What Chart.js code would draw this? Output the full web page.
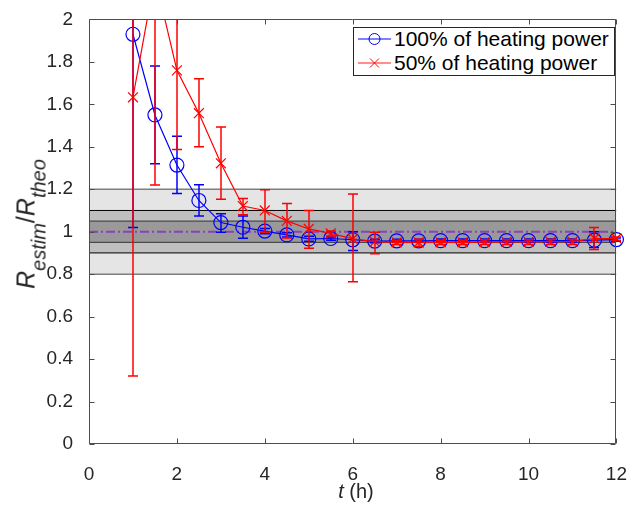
<!DOCTYPE html>
<html>
<head>
<meta charset="utf-8">
<script src="https://cdn.jsdelivr.net/npm/chart.js@4/dist/chart.umd.min.js"></script>
<style>
  html, body { margin: 0; padding: 0; background: #fff; }
  #wrap { position: relative; width: 638px; height: 508px; }
  canvas { display: block; }
  .txt { position: absolute; font-family: "Liberation Sans", Arial, Helvetica, sans-serif; color: #262626; white-space: nowrap; line-height: 1; }
  #ylab { left: 31px; top: 224px; font-size: 25px; transform: translate(-50%, -50%) rotate(-90deg); }
  #ylab .sb { font-size: 20px; vertical-align: -11px; font-style: italic; }
  #xlab { left: 356px; top: 491px; font-size: 20px; transform: translate(-50%, -50%); }
  #legend { position: absolute; left: 353px; top: 27px; width: 262px; height: 49px; border: 1px solid #262626; background: #fff; box-sizing: border-box; }
  .row { position: absolute; left: 0; height: 22px; display: flex; align-items: center; font-family: "Liberation Sans", Arial, Helvetica, sans-serif; font-size: 21px; color: #000; white-space: nowrap; }
  .row svg { margin-left: 4px; margin-right: 3px; }
</style>
</head>
<body>
<div id="wrap">
  <canvas id="c" width="638" height="508"></canvas>
  <div id="ylab" class="txt"><i>R</i><span class="sb">estim</span>/<i>R</i><span class="sb">theo</span></div>
  <div id="xlab" class="txt"><i>t</i> (h)</div>
  <div id="legend">
    <div class="row" style="top:0px">
      <svg width="33" height="22"><line x1="0" y1="11" x2="33" y2="11" stroke="#0000ff" stroke-width="1"/><circle cx="16.5" cy="11" r="5.5" fill="none" stroke="#0000ff" stroke-width="1"/></svg>
      <span id="lab1"></span>
    </div>
    <div class="row" style="top:24px">
      <svg width="33" height="22"><line x1="0" y1="11" x2="33" y2="11" stroke="#ff6a6a" stroke-width="1.5"/><path d="M12 6.5 L21 15.5 M21 6.5 L12 15.5" stroke="#ff0000" stroke-width="1"/></svg>
      <span id="lab2"></span>
    </div>
  </div>
</div>
<script>
// ---------- data ----------
const seriesNames = ["100% of heating power", "50% of heating power"];
const times = [1, 1.5, 2, 2.5, 3, 3.5, 4, 4.5, 5, 5.5, 6, 6.5, 7, 7.5, 8, 8.5, 9, 9.5, 10, 10.5, 11, 11.5, 12];

const power100 = [1.93, 1.55, 1.314, 1.147, 1.043, 1.021, 1.003, 0.985, 0.966, 0.968, 0.962, 0.956, 0.957, 0.957, 0.958, 0.958, 0.958, 0.958, 0.958, 0.958, 0.958, 0.960, 0.963];
const power100Low = [1.02, 1.32, 1.18, 1.074, 0.997, 0.969, 0.990, 0.975, 0.955, 0.960, 0.912, 0.948, 0.950, 0.950, 0.950, 0.950, 0.950, 0.950, 0.950, 0.950, 0.950, 0.925, 0.955];
const power100High = [2.60, 1.78, 1.45, 1.221, 1.085, 1.074, 1.015, 0.995, 0.978, 0.975, 1.000, 0.964, 0.965, 0.965, 0.966, 0.966, 0.966, 0.966, 0.966, 0.966, 0.966, 1.000, 0.970];

const power50 = [1.633, 2.20, 1.76, 1.558, 1.322, 1.121, 1.100, 1.051, 1.013, 0.992, 0.966, 0.953, 0.950, 0.950, 0.950, 0.950, 0.951, 0.952, 0.952, 0.953, 0.953, 0.968, 0.968];
const power50Low = [0.32, 1.22, 1.387, 1.40, 1.153, 1.080, 0.997, 0.970, 0.922, 0.980, 0.764, 0.896, 0.940, 0.930, 0.940, 0.940, 0.940, 0.940, 0.940, 0.940, 0.940, 0.916, 0.960];
const power50High = [2.60, 2.60, 2.60, 1.72, 1.493, 1.156, 1.198, 1.133, 1.100, 1.003, 1.178, 0.997, 0.960, 0.965, 0.960, 0.960, 0.962, 0.962, 0.962, 0.963, 0.963, 1.020, 0.975];

const bandOuter = [0.8, 1.2];
const bandMiddle = [0.9, 1.1];
const bandInner = [0.95, 1.05];
const referenceLevel = 1;
const xRange = [0, 12];
const xTickValues = [0, 2, 4, 6, 8, 10, 12];
const yTickValues = [0, 0.2, 0.4, 0.6, 0.8, 1, 1.2, 1.4, 1.6, 1.8, 2];

document.getElementById('lab1').textContent = seriesNames[0];
document.getElementById('lab2').textContent = seriesNames[1];

const hline = v => xRange.map(x => ({ x: x, y: v }));
const pts = (xs, ys) => xs.map((x, i) => ({ x: x, y: ys[i] }));

const errorBars = {
  id: 'errorBars',
  afterDatasetDraw(chart, args) {
    const ds = chart.data.datasets[args.index];
    if (!ds.errLow) return;
    const ctx = chart.ctx, a = chart.chartArea, xs = chart.scales.x, ys = chart.scales.y;
    ctx.save();
    ctx.beginPath();
    ctx.rect(a.left - 12, a.top, a.right - a.left + 24, a.bottom - a.top);
    ctx.clip();
    ctx.strokeStyle = ds.errColor;
    ctx.lineWidth = 1.5;
    const cap = 5;
    ds.data.forEach((p, i) => {
      const px = Math.round(xs.getPixelForValue(p.x));
      const yl = ys.getPixelForValue(ds.errLow[i]);
      const yh = ys.getPixelForValue(ds.errHigh[i]);
      ctx.beginPath();
      ctx.moveTo(px, yl); ctx.lineTo(px, yh);
      ctx.moveTo(px - cap, yl); ctx.lineTo(px + cap, yl);
      ctx.moveTo(px - cap, yh); ctx.lineTo(px + cap, yh);
      ctx.stroke();
    });
    ctx.restore();
  }
};

const axesBox = {
  id: 'axesBox',
  afterDraw(chart) {
    const ctx = chart.ctx, a = chart.chartArea, xs = chart.scales.x, ys = chart.scales.y;
    const L = Math.round(a.left) + 0.5, R = Math.round(a.right) - 0.5, T = Math.round(a.top) + 0.5, B = Math.round(a.bottom) - 0.5;
    ctx.save();
    ctx.strokeStyle = '#4d4d4d';
    ctx.lineWidth = 1;
    ctx.beginPath();
    ctx.rect(L, T, R - L, B - T);
    const tl = 5;
    xs.ticks.forEach(t => {
      const px = Math.round(xs.getPixelForValue(t.value)) + 0.5;
      ctx.moveTo(px, B); ctx.lineTo(px, B - tl);
      ctx.moveTo(px, T); ctx.lineTo(px, T + tl);
    });
    ys.ticks.forEach(t => {
      const py = Math.round(ys.getPixelForValue(t.value)) + 0.5;
      ctx.moveTo(L, py); ctx.lineTo(L + tl, py);
      ctx.moveTo(R, py); ctx.lineTo(R - tl, py);
    });
    ctx.stroke();
    ctx.restore();
  }
};

const tickFont = { family: '"Liberation Sans", Arial, Helvetica, sans-serif', size: 19 };

new Chart(document.getElementById('c'), {
  type: 'line',
  data: {
    datasets: [
      { data: hline(bandOuter[1]), fill: { value: bandOuter[0] }, backgroundColor: '#e5e5e5', borderColor: '#7f7f7f', borderWidth: 1.5, pointRadius: 0, order: 20 },
      { data: hline(bandOuter[0]), fill: false, borderColor: '#7f7f7f', borderWidth: 1.5, pointRadius: 0, order: 19 },
      { data: hline(bandMiddle[1]), fill: { value: bandMiddle[0] }, backgroundColor: '#bfbfbf', borderColor: '#000000', borderWidth: 1, pointRadius: 0, order: 18 },
      { data: hline(bandMiddle[0]), fill: false, borderColor: '#000000', borderWidth: 1, pointRadius: 0, order: 17 },
      { data: hline(bandInner[1]), fill: { value: bandInner[0] }, backgroundColor: '#999999', borderColor: '#333333', borderWidth: 1, pointRadius: 0, order: 16 },
      { data: hline(bandInner[0]), fill: false, borderColor: '#333333', borderWidth: 1, pointRadius: 0, order: 15 },
      { data: hline(referenceLevel), fill: false, borderColor: '#8c3fbf', borderWidth: 2, borderDash: [9, 3, 2, 3], pointRadius: 0, order: 14 },
      {
        label: seriesNames[0], data: pts(times, power100), borderColor: '#0000ff', borderWidth: 1.2,
        pointStyle: 'circle', pointRadius: 7, pointBorderColor: '#0000ff', pointBackgroundColor: 'rgba(0,0,0,0)', pointBorderWidth: 1.2,
        fill: false, tension: 0, order: 2, clip: { left: 12, right: 12, top: 0, bottom: 0 },
        errLow: power100Low, errHigh: power100High, errColor: '#0000ff'
      },
      {
        label: seriesNames[1], data: pts(times, power50), borderColor: '#ff0000', borderWidth: 1.2,
        pointStyle: 'crossRot', pointRadius: 7, pointBorderColor: '#ff0000', pointBorderWidth: 1.2,
        fill: false, tension: 0, order: 1, clip: { left: 12, right: 12, top: 0, bottom: 0 },
        errLow: power50Low, errHigh: power50High, errColor: '#ff0000'
      }
    ]
  },
  options: {
    responsive: false,
    animation: false,
    devicePixelRatio: 1,
    events: [],
    layout: { padding: { left: 0, right: 13, top: 14, bottom: 0 } },
    plugins: { legend: { display: false }, tooltip: { enabled: false } },
    scales: {
      x: {
        type: 'linear', min: xRange[0], max: xRange[1],
        afterBuildTicks: s => { s.ticks = xTickValues.map(v => ({ value: v })); },
        afterFit: s => { s.height = 64; },
        grid: { display: false }, border: { display: false },
        ticks: { font: tickFont, color: '#262626', padding: 11, maxRotation: 0, callback: v => String(v) }
      },
      y: {
        type: 'linear', min: 0, max: 2,
        afterBuildTicks: s => { s.ticks = yTickValues.map(v => ({ value: v })); },
        afterFit: s => { s.width = 89; },
        grid: { display: false }, border: { display: false },
        ticks: { font: tickFont, color: '#262626', padding: 8, callback: v => String(Math.round(v * 10) / 10) }
      }
    }
  },
  plugins: [errorBars, axesBox]
});
</script>
</body>
</html>
